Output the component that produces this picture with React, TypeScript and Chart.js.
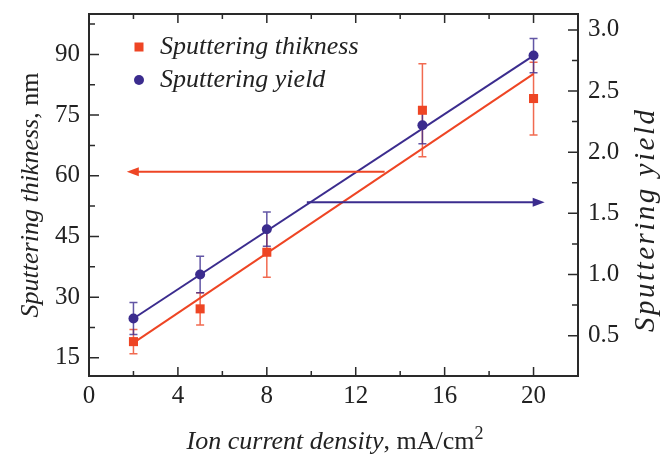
import React, { useEffect, useRef } from "react";
import { Chart, registerables } from "chart.js";
Chart.register(...registerables);

// ---- data ----
const CURRENT = [2, 5, 8, 15, 20];
const THICKNESS = [19.0, 27.1, 41.1, 76.2, 79.1];
const THICKNESS_ERR = [3.0, 4.0, 6.2, 11.5, 9.0];
const YIELD = [0.64, 1.0, 1.37, 2.22, 2.79];
const YIELD_ERR = [0.13, 0.15, 0.14, 0.15, 0.14];
const FIT_CURRENT = [2, 20];
const THICKNESS_FIT = [18.7, 85.2];
const YIELD_FIT = [0.64, 2.79];

const X_TICKS = [0, 4, 8, 12, 16, 20];
const X_MINOR = [2, 6, 10, 14, 18];
const THICK_TICKS = [15, 30, 45, 60, 75, 90];
const THICK_MINOR = [22.5, 37.5, 52.5, 67.5, 82.5, 97.5];
const YIELD_TICKS = [0.5, 1.0, 1.5, 2.0, 2.5, 3.0];
const YIELD_MINOR = [0.75, 1.25, 1.75, 2.25, 2.75];

const THICK_ARROW_X = [13.3, 1.7]; // from -> to (points left)
const THICK_ARROW_LEVEL = 61;
const YIELD_ARROW_X = [9.8, 20.5]; // from -> to (points right)
const YIELD_ARROW_LEVEL = 1.59;

const SERIES_NAMES = ["Sputtering thikness", "Sputtering yield"];
const X_TITLE = ["Ion current density", ", mA/cm", "2"];
const Y_TITLE = ["Sputtering thikness", ", nm"];
const Y1_TITLE = ["Sputtering yield"];

const RED = "#EE4524";
const RED_ERR = "rgba(238,69,36,0.8)";
const BLUE = "#3B2C8E";
const BLUE_ERR = "rgba(59,44,142,0.8)";
const AXIS = "#2a2a2a";
const FONT = "'Liberation Serif', 'Times New Roman', Tinos, serif";
const FS = 25;
const TS = 26;
const TS_RIGHT = 29;

type Seg = { t: string; f: string; dy: number; sp?: number };

const decorPlugin = {
  id: "decor",
  beforeDatasetsDraw(chart: any) {
    const ctx = chart.ctx;
    const xs = chart.scales.x;
    const ys = chart.scales.y;
    const y1 = chart.scales.y1;
    const drawErr = (vals: number[], errs: number[], scale: any, color: string) => {
      ctx.save();
      ctx.strokeStyle = color;
      ctx.lineWidth = 1.5;
      vals.forEach((v, i) => {
        const px = xs.getPixelForValue(CURRENT[i]);
        const top = scale.getPixelForValue(v + errs[i]);
        const bot = scale.getPixelForValue(v - errs[i]);
        ctx.beginPath();
        ctx.moveTo(px, top);
        ctx.lineTo(px, bot);
        ctx.moveTo(px - 4, top);
        ctx.lineTo(px + 4, top);
        ctx.moveTo(px - 4, bot);
        ctx.lineTo(px + 4, bot);
        ctx.stroke();
      });
      ctx.restore();
    };
    drawErr(THICKNESS, THICKNESS_ERR, ys, RED_ERR);
    drawErr(YIELD, YIELD_ERR, y1, BLUE_ERR);
  },
  afterDraw(chart: any) {
    const ctx = chart.ctx;
    const { left, right, top, bottom } = chart.chartArea;
    const xs = chart.scales.x;
    const ys = chart.scales.y;
    const y1 = chart.scales.y1;
    ctx.save();
    // frame
    ctx.strokeStyle = AXIS;
    ctx.lineWidth = 2;
    ctx.strokeRect(left, top, right - left, bottom - top);
    // ticks (inward)
    ctx.lineWidth = 1.5;
    ctx.beginPath();
    const xt = (vals: number[], len: number) =>
      vals.forEach((v) => {
        const p = xs.getPixelForValue(v);
        ctx.moveTo(p, bottom);
        ctx.lineTo(p, bottom - len);
        ctx.moveTo(p, top);
        ctx.lineTo(p, top + len);
      });
    xt(X_TICKS, 9);
    xt(X_MINOR, 5);
    const lt = (vals: number[], len: number) =>
      vals.forEach((v) => {
        const p = ys.getPixelForValue(v);
        ctx.moveTo(left, p);
        ctx.lineTo(left + len, p);
      });
    lt(THICK_TICKS, 10);
    lt(THICK_MINOR, 6);
    const rt = (vals: number[], len: number) =>
      vals.forEach((v) => {
        const p = y1.getPixelForValue(v);
        ctx.moveTo(right, p);
        ctx.lineTo(right - len, p);
      });
    rt(YIELD_TICKS, 10);
    rt(YIELD_MINOR, 6);
    ctx.stroke();

    // arrows
    const arrow = (xFrom: number, xTo: number, level: number, scale: any, color: string) => {
      const a = xs.getPixelForValue(xFrom);
      const b = xs.getPixelForValue(xTo);
      const yp = scale.getPixelForValue(level);
      const dir = b > a ? 1 : -1;
      ctx.strokeStyle = color;
      ctx.fillStyle = color;
      ctx.lineWidth = 2;
      ctx.beginPath();
      ctx.moveTo(a, yp);
      ctx.lineTo(b - dir * 10, yp);
      ctx.stroke();
      ctx.beginPath();
      ctx.moveTo(b, yp);
      ctx.lineTo(b - dir * 12, yp - 4.5);
      ctx.lineTo(b - dir * 12, yp + 4.5);
      ctx.closePath();
      ctx.fill();
    };
    arrow(THICK_ARROW_X[0], THICK_ARROW_X[1], THICK_ARROW_LEVEL, ys, RED);
    arrow(YIELD_ARROW_X[0], YIELD_ARROW_X[1], YIELD_ARROW_LEVEL, y1, BLUE);

    // legend
    ctx.fillStyle = RED;
    ctx.fillRect(139 - 4.5, 47 - 4.5, 9, 9);
    ctx.fillStyle = BLUE;
    ctx.beginPath();
    ctx.arc(139, 80, 5, 0, Math.PI * 2);
    ctx.fill();
    ctx.fillStyle = "#222";
    ctx.font = `italic ${TS}px ${FONT}`;
    ctx.textAlign = "left";
    ctx.textBaseline = "middle";
    ctx.fillText(SERIES_NAMES[0], 160, 47);
    ctx.fillText(SERIES_NAMES[1], 160, 80);

    // titles with mixed styles
    const segs = (parts: Seg[], cx: number, baseline: number) => {
      ctx.textAlign = "left";
      ctx.textBaseline = "alphabetic";
      const widthOf = (p: Seg) => {
        ctx.font = p.f;
        const sp = p.sp || 0;
        if (!sp) return ctx.measureText(p.t).width;
        let w = 0;
        for (const ch of p.t) w += ctx.measureText(ch).width + sp;
        return w - sp;
      };
      let total = 0;
      parts.forEach((p) => (total += widthOf(p)));
      let x = cx - total / 2;
      parts.forEach((p) => {
        ctx.font = p.f;
        const sp = p.sp || 0;
        if (!sp) {
          ctx.fillText(p.t, x, baseline + p.dy);
          x += ctx.measureText(p.t).width;
        } else {
          for (const ch of p.t) {
            ctx.fillText(ch, x, baseline + p.dy);
            x += ctx.measureText(ch).width + sp;
          }
        }
      });
    };
    const it = `italic ${TS}px ${FONT}`;
    const rm = `${TS}px ${FONT}`;
    const sup = `${Math.round(TS * 0.68)}px ${FONT}`;
    ctx.fillStyle = "#222";
    segs(
      [
        { t: X_TITLE[0], f: it, dy: 0 },
        { t: X_TITLE[1], f: rm, dy: 0 },
        { t: X_TITLE[2], f: sup, dy: -10 },
      ],
      335,
      449
    );
    ctx.save();
    ctx.translate(38, 195);
    ctx.rotate(-Math.PI / 2);
    segs(
      [
        { t: Y_TITLE[0], f: it, dy: 0 },
        { t: Y_TITLE[1], f: rm, dy: 0 },
      ],
      0,
      0
    );
    ctx.restore();
    ctx.save();
    ctx.translate(654, 221);
    ctx.rotate(-Math.PI / 2);
    segs([{ t: Y1_TITLE[0], f: `italic ${TS_RIGHT}px ${FONT}`, dy: 0, sp: 2.5 }], 0, 0);
    ctx.restore();
    ctx.restore();
  },
};

const noPad = (s: any) => {
  s.paddingTop = 0;
  s.paddingBottom = 0;
  s.paddingLeft = 0;
  s.paddingRight = 0;
};

export default function App() {
  const ref = useRef<HTMLCanvasElement | null>(null);
  useEffect(() => {
    document.body.style.margin = "0";
    const canvas = ref.current!;
    const tickFont = { family: FONT, size: FS };
    const chart = new Chart(canvas, {
      type: "scatter",
      data: {
        datasets: [
          {
            label: "thickness fit",
            data: FIT_CURRENT.map((x, i) => ({ x, y: THICKNESS_FIT[i] })),
            showLine: true,
            borderColor: RED,
            borderWidth: 2,
            pointRadius: 0,
            yAxisID: "y",
            order: 3,
          },
          {
            label: "yield fit",
            data: FIT_CURRENT.map((x, i) => ({ x, y: YIELD_FIT[i] })),
            showLine: true,
            borderColor: BLUE,
            borderWidth: 2,
            pointRadius: 0,
            yAxisID: "y1",
            order: 3,
          },
          {
            label: SERIES_NAMES[0],
            data: CURRENT.map((x, i) => ({ x, y: THICKNESS[i] })),
            pointStyle: "rect",
            pointRadius: 6.4,
            backgroundColor: RED,
            borderWidth: 0,
            yAxisID: "y",
            order: 1,
          },
          {
            label: SERIES_NAMES[1],
            data: CURRENT.map((x, i) => ({ x, y: YIELD[i] })),
            pointStyle: "circle",
            pointRadius: 5,
            backgroundColor: BLUE,
            borderWidth: 0,
            yAxisID: "y1",
            order: 0,
          },
        ],
      },
      options: {
        animation: false,
        responsive: false,
        events: [],
        layout: { padding: { top: 14, left: 0, right: 0, bottom: 0 } },
        plugins: { legend: { display: false }, tooltip: { enabled: false } },
        scales: {
          x: {
            type: "linear",
            min: 0,
            max: 22,
            afterBuildTicks: (s: any) => {
              s.ticks = X_TICKS.map((v) => ({ value: v }));
            },
            afterFit: (s: any) => {
              s.height = 78;
              noPad(s);
            },
            grid: { display: false, drawTicks: false },
            border: { display: false },
            ticks: {
              padding: 5,
              font: tickFont,
              color: "#222",
              maxRotation: 0,
              autoSkip: false,
              callback: (v: any) => String(v),
            },
          },
          y: {
            type: "linear",
            position: "left",
            min: 10.5,
            max: 100,
            afterBuildTicks: (s: any) => {
              s.ticks = THICK_TICKS.map((v) => ({ value: v }));
            },
            afterFit: (s: any) => {
              s.width = 89;
              noPad(s);
            },
            grid: { display: false, drawTicks: false },
            border: { display: false },
            ticks: {
              padding: 9,
              font: tickFont,
              color: "#222",
              autoSkip: false,
              callback: (v: any) => String(v),
            },
          },
          y1: {
            type: "linear",
            position: "right",
            min: 0.17,
            max: 3.13,
            afterBuildTicks: (s: any) => {
              s.ticks = YIELD_TICKS.map((v) => ({ value: v }));
            },
            afterFit: (s: any) => {
              s.width = 91;
              noPad(s);
            },
            grid: { display: false, drawTicks: false },
            border: { display: false },
            ticks: {
              padding: 10,
              font: tickFont,
              color: "#222",
              autoSkip: false,
              callback: (v: any) => Number(v).toFixed(1),
            },
          },
        },
      },
      plugins: [decorPlugin],
    } as any);
    let alive = true;
    if ((document as any).fonts) {
      Promise.all([
        document.fonts.load(`${FS}px "Liberation Serif"`),
        document.fonts.load(`italic ${TS}px "Liberation Serif"`),
        document.fonts.load(`italic ${TS_RIGHT}px "Liberation Serif"`),
        document.fonts.load(`${TS}px "Liberation Serif"`),
      ])
        .then(() => {
          if (alive) chart.update();
        })
        .catch(() => {});
    }
    return () => {
      alive = false;
      chart.destroy();
    };
  }, []);
  return (
    <div style={{ width: 669, height: 454 }}>
      <canvas ref={ref} width={669} height={454} style={{ display: "block" }} />
    </div>
  );
}
